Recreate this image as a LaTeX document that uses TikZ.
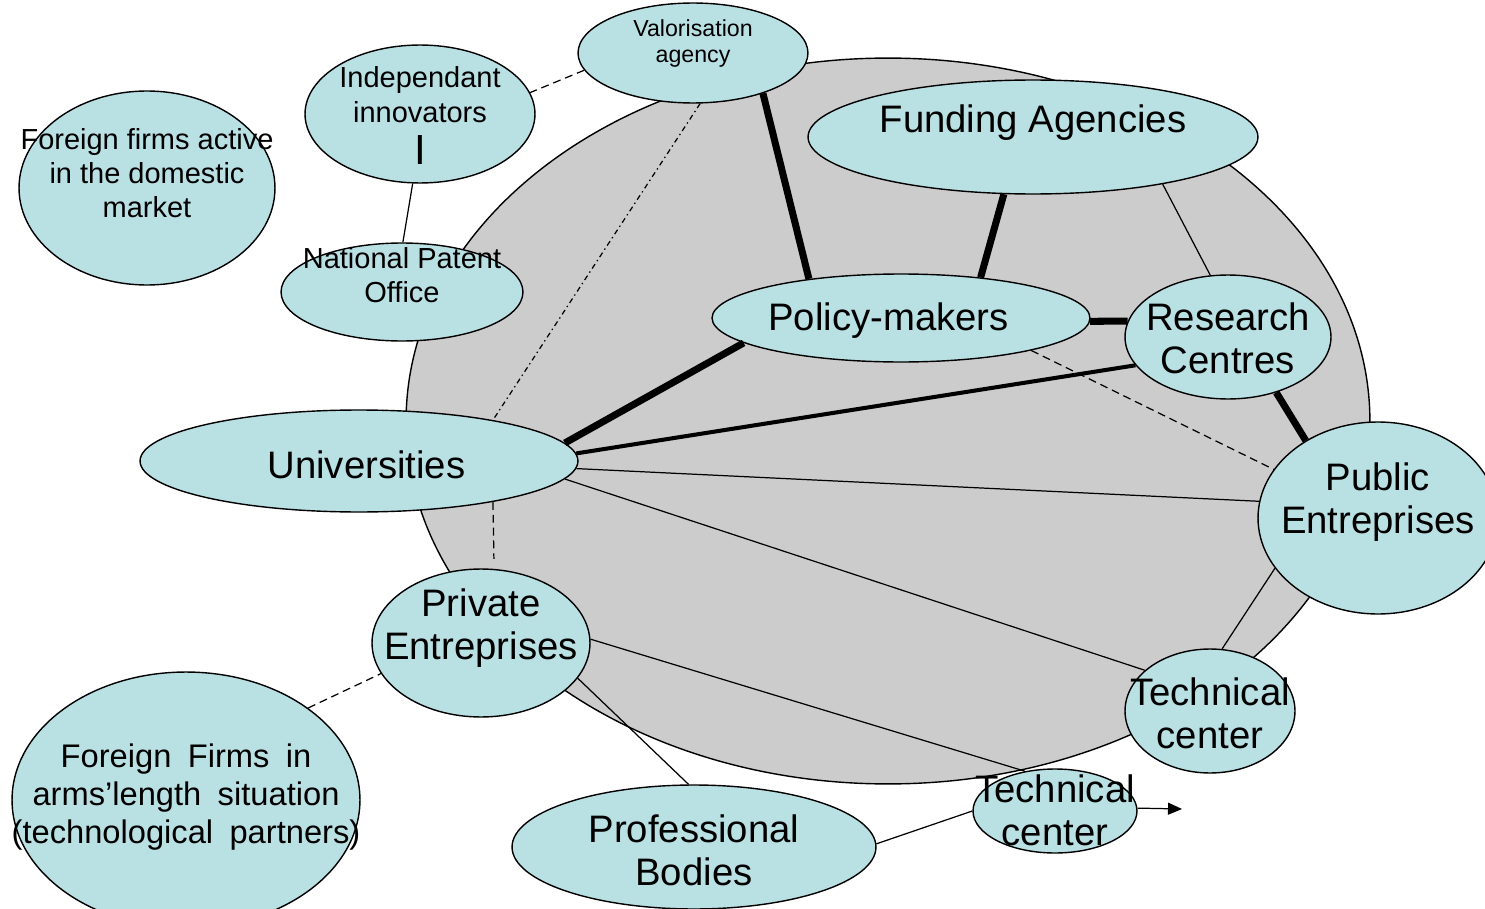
\documentclass[tikz,border=0pt]{standalone}
\usepackage{fontspec}
\setmainfont{Liberation Sans}
\usetikzlibrary{shapes.geometric,arrows.meta}
\definecolor{blobblue}{RGB}{185,224,227}
\definecolor{sysgrey}{RGB}{204,204,204}
\newlength\pxu
\setlength\pxu{0.02cm}
\newcommand{\blobtext}[2][0]{\smash{\makebox[0pt]{\raisebox{\dimexpr#1\pxu-0.38em\relax}{\begin{tabular}{@{}c@{}}#2\end{tabular}}}}}
\newcommand{\gap}{\hspace{0.5em}}

\begin{document}
\begin{tikzpicture}[x=0.02cm,y=-0.02cm,inner sep=0pt,
actor/.style={draw,ellipse,fill=blobblue,line width=0.8pt,inner sep=0pt},
bigtxt/.style={font=\fontsize{21.8}{24.4}\selectfont},
midtxt/.style={font=\fontsize{16.5}{19.5}\selectfont},
smalltxt/.style={font=\fontsize{13.2}{14.7}\selectfont},
widetxt/.style={font=\fontsize{18.6}{21.8}\selectfont},
weak/.style={line width=0.7pt},
strong/.style={line width=4pt},
medium/.style={line width=2.3pt},
loose/.style={line width=0.7pt,dash pattern=on 4.5pt off 2.8pt},
remote/.style={line width=0.7pt,dash pattern=on 3pt off 2pt on 0.8pt off 2pt}]

\useasboundingbox (0,0) rectangle (1485,909);
\clip (0,0) rectangle (1485,909);

\draw (888,421) node[draw,ellipse,fill=sysgrey,line width=0.8pt,minimum width=19.28cm,minimum height=14.52cm] (system) {};

\draw (693,53) node[actor,smalltxt,minimum width=4.6cm,minimum height=2cm] (val) {\blobtext[12]{Valorisation\\agency}};
\draw (420,114) node[actor,midtxt,minimum width=4.6cm,minimum height=2.76cm] (indep) {\blobtext[-2]{Independant\\innovators\\[2pt]{\fontsize{24}{24}\selectfont I}}};
\draw (147,188) node[actor,midtxt,minimum width=5.12cm,minimum height=3.88cm] (fdom) {\blobtext[15]{Foreign firms active\\in the domestic\\market}};
\draw (402,292) node[actor,midtxt,minimum width=4.84cm,minimum height=1.96cm] (npo) {\blobtext[17]{National Patent\\Office}};
\draw (1033,137) node[actor,bigtxt,minimum width=9cm,minimum height=2.28cm] (fund) {\blobtext[19]{Funding Agencies}};
\draw (901,318) node[actor,bigtxt,minimum width=7.56cm,minimum height=1.76cm] (policy) {\blobtext[2]{\hspace*{-0.5cm}Policy-makers}};
\draw (1228,337) node[actor,bigtxt,minimum width=4.12cm,minimum height=2.48cm] (research) {\blobtext[-1]{Research\\Centres}};
\draw (1378,518) node[actor,bigtxt,minimum width=4.8cm,minimum height=3.84cm] (public) {\blobtext[20]{Public\\Entreprises}};
\draw (359,461) node[actor,bigtxt,minimum width=8.76cm,minimum height=2.04cm] (univ) {\blobtext[-3]{\hspace*{0.3cm}Universities}};
\draw (481,643) node[actor,bigtxt,minimum width=4.36cm,minimum height=2.96cm] (private) {\blobtext[19]{Private\\Entreprises}};
\draw (1210,711) node[actor,bigtxt,minimum width=3.4cm,minimum height=2.48cm] (techR) {\blobtext[-2]{Technical\\center}};
\draw (1055,811) node[actor,bigtxt,minimum width=3.28cm,minimum height=1.68cm] (techB) {\blobtext[1]{Technical\\center}};
\draw (694,847) node[actor,bigtxt,minimum width=7.28cm,minimum height=2.48cm] (prof) {\blobtext[-3]{Professional\\Bodies}};
\draw (186,800) node[actor,widetxt,minimum width=6.96cm,minimum height=5.12cm] (farms) {\blobtext[7]{Foreign\gap Firms\gap in\\arms'length\gap situation\\(technological\gap partners)}};

\draw[loose] (val.189) -- (indep.11);
\draw[remote] (val.-82) -- (univ.17);
\draw[strong] (val.-30) -- (policy.157);
\draw[weak] (indep.-96) -- (npo.89);
\draw[strong] (fund.-117) -- (policy.27);
\draw[weak] (fund.-20) -- (research.106);
\draw[strong] (policy.-1) -- (research.171);
\draw[loose] (policy.-14) -- (public.155);
\draw[strong] (research.-49) -- (public.133);
\draw[strong] (policy.189) -- (univ.5);
\draw[medium] (research.197) -- (univ.2);
\draw[weak] (univ.-2) -- (public.172);
\draw[weak] (univ.-5) -- (techR.148);
\draw[weak] (public.206) -- (techR.79);
\draw[weak] (private.2) -- (techB.127);
\draw[weak] (private.-20) -- (prof.95);
\draw[loose] (farms.37) -- (private.197);
\draw[weak] (prof.1) -- (techB.180);
\draw[loose,shorten >=0.2cm] (univ.-17) -- (private.80);
\coordinate (out) at (1182,809);
\draw[weak,-{Triangle[length=2.8mm,width=2.4mm]}] (techB.2) -- (out);
\end{tikzpicture}
\end{document}
